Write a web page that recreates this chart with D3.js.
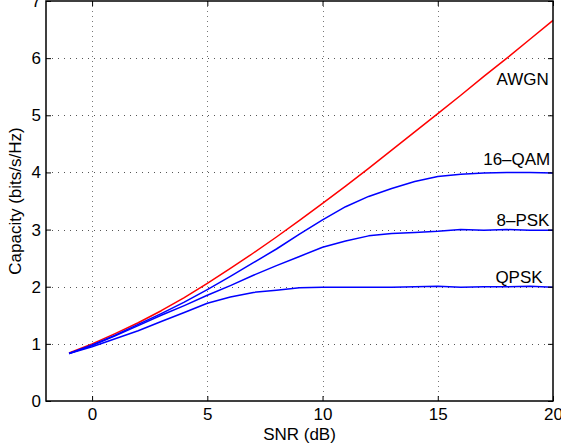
<!DOCTYPE html>
<html>
<head>
<meta charset="utf-8">
<script src="https://cdn.jsdelivr.net/npm/d3@7"></script>
<style>
  html, body { margin: 0; padding: 0; background: #fff; }
  svg { display: block; }
  text { font-family: "Liberation Sans", Arial, Helvetica, sans-serif; fill: #000; }
</style>
</head>
<body>
<svg id="chart" width="561" height="448"></svg>
<script>
// SNR grid (dB) shared by every capacity curve
const snrDb = [-1, 0, 1, 2, 3, 4, 5, 6, 7, 8, 9, 10, 11, 12, 13, 14, 15, 16, 17, 18, 19, 20];

// Capacity in bits/s/Hz
const awgn  = [0.84, 1.00, 1.18, 1.37, 1.58, 1.81, 2.06, 2.32, 2.59, 2.87, 3.16, 3.46, 3.76, 4.07, 4.39, 4.71, 5.03, 5.35, 5.68, 6.00, 6.33, 6.66];
const qam16 = [0.83, 0.98, 1.15, 1.34, 1.53, 1.73, 1.95, 2.18, 2.42, 2.66, 2.92, 3.17, 3.40, 3.58, 3.72, 3.84, 3.93, 3.97, 3.99, 4.00, 4.00, 3.99];
const psk8  = [0.83, 0.97, 1.14, 1.32, 1.50, 1.67, 1.85, 2.02, 2.20, 2.37, 2.53, 2.69, 2.80, 2.89, 2.93, 2.95, 2.97, 3.00, 2.99, 3.00, 2.99, 2.99];
const qpsk  = [0.83, 0.95, 1.09, 1.23, 1.39, 1.55, 1.71, 1.82, 1.90, 1.94, 1.98, 1.99, 1.99, 1.99, 1.99, 2.00, 2.01, 1.99, 2.00, 2.00, 2.01, 1.99];

const seriesNames = ["AWGN", "16\u2013QAM", "8\u2013PSK", "QPSK"];

// Axis ticks
const xTicks = [0, 5, 10, 15, 20];
const yTicks = [0, 1, 2, 3, 4, 5, 6, 7];

(function draw() {
  const fontSize = 17;
  const series = [
    { name: seriesNames[0], values: awgn,  color: "#ff0000", labelAt: [17.55, 5.6] },
    { name: seriesNames[1], values: qam16, color: "#0000ff", labelAt: [16.97, 4.2] },
    { name: seriesNames[2], values: psk8,  color: "#0000ff", labelAt: [17.55, 3.14] },
    { name: seriesNames[3], values: qpsk,  color: "#0000ff", labelAt: [17.5, 2.15] }
  ];

  const svg = d3.select("#chart");
  const plotLeft = 46, plotRight = 553, plotTop = 1, plotBottom = 401;

  const x = d3.scaleLinear().domain([-2, 20]).range([plotLeft, plotRight]);
  const y = d3.scaleLinear().domain([0, 7]).range([plotBottom, plotTop]);

  // Dotted grid
  const grid = svg.append("g");
  grid.selectAll("line.gx")
    .data(xTicks.filter(t => t > -2 && t < 20))
    .join("line")
    .attr("x1", d => Math.round(x(d)) + 0.5).attr("x2", d => Math.round(x(d)) + 0.5)
    .attr("y1", plotTop).attr("y2", plotBottom)
    .attr("stroke", "#777").attr("stroke-width", 1).attr("stroke-dasharray", "1,4");
  grid.selectAll("line.gy")
    .data(yTicks.filter(t => t > 0 && t < 7))
    .join("line")
    .attr("y1", d => Math.round(y(d)) + 0.5).attr("y2", d => Math.round(y(d)) + 0.5)
    .attr("x1", plotLeft).attr("x2", plotRight)
    .attr("stroke", "#555").attr("stroke-width", 1).attr("stroke-dasharray", "1,5");

  // Curves
  const line = d3.line()
    .x((d, i) => x(snrDb[i]))
    .y(d => y(d));

  svg.append("g").selectAll("path")
    .data(series)
    .join("path")
    .attr("d", d => line(d.values))
    .attr("fill", "none")
    .attr("stroke", d => d.color)
    .attr("stroke-width", 1.5)
    .attr("stroke-linejoin", "round");

  // Curve labels
  svg.append("g").selectAll("text")
    .data(series)
    .join("text")
    .attr("x", d => x(d.labelAt[0]))
    .attr("y", d => y(d.labelAt[1]))
    .attr("dominant-baseline", "middle")
    .attr("font-size", fontSize)
    .text(d => d.name);

  // Axes: ticks inward, mirrored on the opposite sides
  const tickLen = 5;
  const xAxisB = d3.axisBottom(x).tickValues(xTicks).tickSize(-tickLen).tickPadding(7).tickFormat(d3.format("d"));
  const xAxisT = d3.axisTop(x).tickValues(xTicks).tickSize(-tickLen).tickFormat("");
  const yAxisL = d3.axisLeft(y).tickValues(yTicks).tickSize(-tickLen).tickPadding(5).tickFormat(d3.format("d"));
  const yAxisR = d3.axisRight(y).tickValues(yTicks).tickSize(-tickLen).tickFormat("");

  function styleAxis(g) {
    g.select(".domain").remove();
    g.selectAll(".tick line").attr("stroke", "#000").attr("stroke-width", 1);
    g.selectAll(".tick text").attr("font-size", fontSize).attr("font-family", "Liberation Sans, Arial, sans-serif").attr("fill", "#000");
  }

  svg.append("g").attr("transform", `translate(0,${plotBottom})`).call(xAxisB).call(styleAxis);
  svg.append("g").attr("transform", `translate(0,${plotTop})`).call(xAxisT).call(styleAxis);
  svg.append("g").attr("transform", `translate(${plotLeft},0)`).call(yAxisL).call(styleAxis);
  svg.append("g").attr("transform", `translate(${plotRight},0)`).call(yAxisR).call(styleAxis);

  // Box
  svg.append("rect")
    .attr("x", plotLeft).attr("y", plotTop)
    .attr("width", plotRight - plotLeft).attr("height", plotBottom - plotTop)
    .attr("fill", "none").attr("stroke", "#000").attr("stroke-width", 1.5);

  // Axis titles
  svg.append("text")
    .attr("x", (plotLeft + plotRight) / 2).attr("y", 440)
    .attr("text-anchor", "middle")
    .attr("font-size", fontSize)
    .text("SNR (dB)");

  svg.append("text")
    .attr("transform", `translate(21,${(plotTop + plotBottom) / 2}) rotate(-90)`)
    .attr("text-anchor", "middle")
    .attr("font-size", fontSize)
    .text("Capacity (bits/s/Hz)");
})();
</script>
</body>
</html>
